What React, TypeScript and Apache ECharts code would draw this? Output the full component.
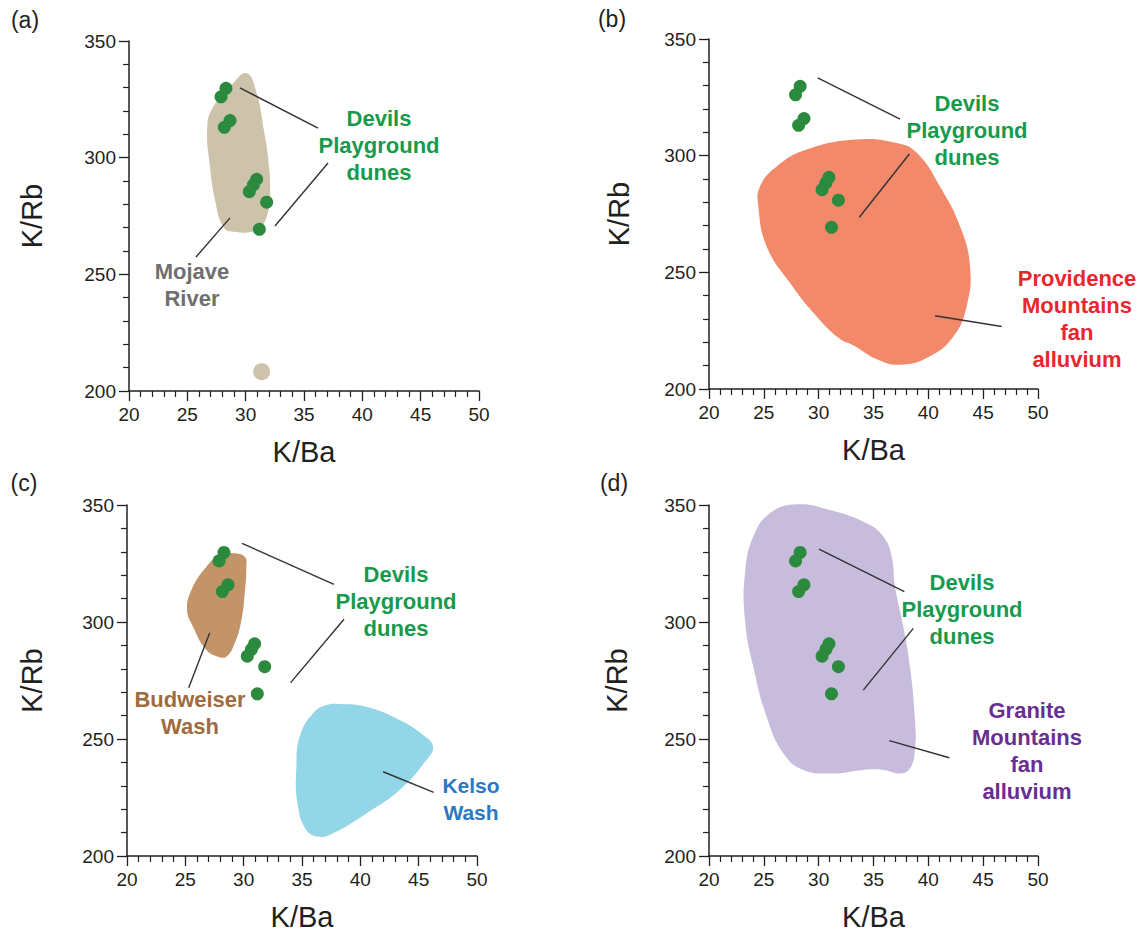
import React, { useEffect, useRef } from "react";
import * as echarts from "echarts";

// ---- axes ----
const xMin = 20, xMax = 50, xStep = 5;
const yMin = 200, yMax = 350, yStep = 50;
const xName = "K/Ba";
const yName = "K/Rb";
const panelLetters = ["(a)", "(b)", "(c)", "(d)"];

// ---- Devils Playground dunes samples (K/Ba, K/Rb) ----
const dunesKBa = [28.31, 27.89, 28.66, 28.17, 30.94, 30.66, 30.31, 31.8, 31.17];
const dunesKRb = [329.7, 326.1, 315.9, 313.0, 290.7, 288.3, 285.4, 280.9, 269.3];

// ---- Mojave River outlier sample ----
const mojaveOutlier: [number, number][] = [[31.37, 208.3]];

// ---- field outlines (K/Ba, K/Rb) ----
const mojaveRiver: [number, number][] = [
  [30.09, 336.2], [30.94, 327.6], [31.51, 313.3], [31.94, 299.0], [32.09, 284.7],
  [31.8, 274.7], [30.94, 269.0], [28.94, 268.3], [28.08, 270.4], [27.37, 281.9],
  [26.94, 296.1], [26.71, 313.3], [27.23, 321.9], [28.66, 330.4],
];
const providence: [number, number][] = [
  [33.47, 306.9], [37.11, 305.4], [38.94, 301.2], [41.06, 286.8], [42.89, 269.7],
  [43.8, 252.5], [43.49, 235.4], [42.28, 222.5], [40.15, 214.0], [37.57, 210.4],
  [35.29, 212.8], [33.2, 218.6], [31.9, 221.6], [29.82, 231.1], [27.39, 245.4],
  [25.26, 261.1], [24.5, 278.3], [24.65, 286.8], [26.17, 295.4], [28.91, 302.6],
];
const budweiser: [number, number][] = [
  [29.09, 329.4], [30.09, 327.9], [30.23, 323.6], [30.09, 312.3], [29.81, 300.9],
  [29.23, 290.9], [28.52, 285.2], [27.8, 285.2], [26.81, 288.0], [25.66, 298.0],
  [25.15, 305.1], [25.52, 313.7], [26.81, 323.6], [27.95, 328.6],
];
const kelso: [number, number][] = [
  [38.23, 265.0], [40.52, 263.8], [43.37, 258.1], [45.38, 251.7], [46.23, 246.7],
  [45.66, 241.0], [43.37, 228.2], [40.52, 218.2], [37.66, 209.7], [36.52, 208.2],
  [35.37, 211.1], [34.61, 222.5], [34.52, 238.2], [34.8, 251.0], [35.95, 261.0],
  [37.09, 264.5],
];
const granite: [number, number][] = [
  [28.0, 350.3], [31.03, 347.9], [34.38, 342.2], [35.89, 336.5], [36.66, 327.9],
  [36.96, 315.1], [37.72, 298.0], [38.33, 280.9], [38.78, 258.1], [38.78, 245.3],
  [38.33, 237.5], [37.42, 235.3], [35.89, 236.8], [34.07, 236.8], [31.33, 235.3],
  [28.6, 236.8], [26.78, 243.9], [25.26, 259.5], [24.04, 280.9], [23.28, 300.9],
  [23.28, 320.8], [24.04, 336.5], [25.56, 346.5],
];

// ---- leader lines (data coords) ----
type Seg = [[number, number], [number, number]];
const leadersA: Seg[] = [
  [[29.51, 329.9], [36.2, 312.7]], [[37.06, 297.7], [32.51, 270.7]], [[28.66, 274.2], [25.74, 257.4]],
];
const leadersB: Seg[] = [
  [[29.91, 333.3], [37.42, 315.7]], [[38.27, 300.7], [33.71, 273.6]], [[40.61, 231.4], [46.69, 226.8]],
];
const leadersC: Seg[] = [
  [[29.86, 333.6], [37.74, 316.1]], [[38.6, 301.2], [34.03, 274.1]],
  [[27.09, 295.4], [25.29, 271.9]], [[41.95, 236.0], [46.29, 227.2]],
];
const leadersD: Seg[] = [
  [[30.03, 331.1], [37.81, 313.0]], [[38.63, 297.3], [34.07, 270.9]], [[36.44, 249.3], [41.91, 242.0]],
];

const FONT = "'Liberation Sans', Arial, Helvetica, sans-serif";
const AXIS_COLOR = "#231f20";

const grids = [
  { left: 129, top: 41, width: 350, height: 350 },
  { left: 709, top: 39, width: 329, height: 350 },
  { left: 127, top: 505, width: 350, height: 351 },
  { left: 709, top: 505, width: 329, height: 351 },
];
const yNameGaps = [83, 76, 81, 78];

function shapeSeries(idx: number, verts: [number, number][], color: string) {
  return {
    type: "custom",
    xAxisIndex: idx,
    yAxisIndex: idx,
    data: verts,
    encode: { x: 0, y: 1 },
    silent: true,
    z: 1,
    clip: false,
    renderItem: (params: any, api: any) => {
      if (params.dataIndex !== 0) return null;
      return {
        type: "polygon",
        shape: { points: verts.map((v) => api.coord(v)), smooth: 0.45 },
        style: { fill: color },
      };
    },
  };
}

function dunesSeries(idx: number, leaders: Seg[]) {
  return {
    type: "scatter",
    xAxisIndex: idx,
    yAxisIndex: idx,
    data: dunesKBa.map((x, i) => [x, dunesKRb[i]]),
    symbolSize: 13,
    itemStyle: { color: "#2b8a3e", opacity: 1 },
    z: 3,
    silent: true,
    markLine: {
      silent: true,
      symbol: ["none", "none"],
      label: { show: false },
      lineStyle: { color: "#333333", width: 1.4, type: "solid" },
      data: leaders.map(([a, b]) => [{ coord: a }, { coord: b }]),
    },
  };
}

function label(x: number, y: number, text: string, color: string, size = 22) {
  return {
    type: "text",
    x,
    y,
    z: 100,
    style: {
      text,
      fill: color,
      font: `bold ${size}px ${FONT}`,
      textAlign: "center",
      textVerticalAlign: "middle",
      lineHeight: 27,
    },
  };
}

function letter(x: number, y: number, text: string) {
  return {
    type: "text",
    x,
    y,
    style: {
      text,
      fill: "#222",
      font: `23px ${FONT}`,
      textAlign: "center",
      textVerticalAlign: "middle",
    },
  };
}

export default function App() {
  const ref = useRef<HTMLDivElement>(null);
  useEffect(() => {
    if (!ref.current) return;
    const chart = echarts.init(ref.current, undefined, { renderer: "svg" });
    const green = "#169a4b";
    const option: any = {
      animation: false,
      backgroundColor: "#ffffff",
      textStyle: { fontFamily: FONT },
      grid: grids.map((g) => ({ ...g, containLabel: false })),
      xAxis: grids.map((_, i) => ({
        type: "value",
        gridIndex: i,
        min: xMin,
        max: xMax,
        interval: xStep,
        name: xName,
        nameLocation: "middle",
        nameGap: 46,
        nameTextStyle: { fontSize: 29, color: AXIS_COLOR, fontFamily: FONT },
        axisLine: { show: true, lineStyle: { color: AXIS_COLOR, width: 1.5 } },
        axisTick: { show: true, inside: false, length: 10, lineStyle: { color: AXIS_COLOR, width: 1.3 } },
        minorTick: { show: true, splitNumber: 5, length: 6, lineStyle: { color: AXIS_COLOR, width: 1.2 } },
        splitLine: { show: false },
        minorSplitLine: { show: false },
        axisLabel: { show: true, fontSize: 19, lineHeight: 22, color: AXIS_COLOR, fontFamily: FONT, margin: 12 },
      })),
      yAxis: grids.map((_, i) => ({
        type: "value",
        gridIndex: i,
        min: yMin,
        max: yMax,
        interval: yStep,
        name: yName,
        nameLocation: "middle",
        nameRotate: 90,
        nameGap: yNameGaps[i],
        nameTextStyle: { fontSize: 29, color: AXIS_COLOR, fontFamily: FONT },
        axisLine: { show: true, lineStyle: { color: AXIS_COLOR, width: 1.5 } },
        axisTick: { show: true, inside: false, length: 10, lineStyle: { color: AXIS_COLOR, width: 1.3 } },
        minorTick: { show: true, splitNumber: 5, length: 6, lineStyle: { color: AXIS_COLOR, width: 1.2 } },
        splitLine: { show: false },
        minorSplitLine: { show: false },
        axisLabel: { show: true, fontSize: 19, color: AXIS_COLOR, fontFamily: FONT, margin: 13 },
      })),
      series: [
        shapeSeries(0, mojaveRiver, "#cdc2aa"),
        {
          type: "scatter",
          xAxisIndex: 0,
          yAxisIndex: 0,
          data: mojaveOutlier,
          symbolSize: 17,
          itemStyle: { color: "#cdc2aa", opacity: 1 },
          silent: true,
          z: 2,
        },
        dunesSeries(0, leadersA),
        shapeSeries(1, providence, "#f2896a"),
        dunesSeries(1, leadersB),
        shapeSeries(2, budweiser, "#c39467"),
        shapeSeries(2, kelso, "#93d6e7"),
        dunesSeries(2, leadersC),
        shapeSeries(3, granite, "#c8bcdc"),
        dunesSeries(3, leadersD),
      ],
      graphic: [
        letter(25, 20, panelLetters[0]),
        letter(612, 19, panelLetters[1]),
        letter(24, 483, panelLetters[2]),
        letter(614, 483, panelLetters[3]),
        label(379, 145, "Devils\nPlayground\ndunes", green),
        label(192, 285, "Mojave\nRiver", "#6f6f6f"),
        label(967, 130, "Devils\nPlayground\ndunes", green),
        label(1077, 318.5, "Providence\nMountains\nfan\nalluvium", "#e8262d"),
        label(396, 601, "Devils\nPlayground\ndunes", green),
        label(190, 712.5, "Budweiser\nWash", "#a06b3d"),
        label(471, 799, "Kelso\nWash", "#2b78c3", 21),
        label(962, 609, "Devils\nPlayground\ndunes", green),
        label(1027, 751, "Granite\nMountains\nfan\nalluvium", "#6a2d91"),
      ],
    };
    chart.setOption(option);
    return () => chart.dispose();
  }, []);
  return (
    <div
      ref={ref}
      style={{ position: "fixed", left: 0, top: 0, width: 1145, height: 940, background: "#fff" }}
    />
  );
}
